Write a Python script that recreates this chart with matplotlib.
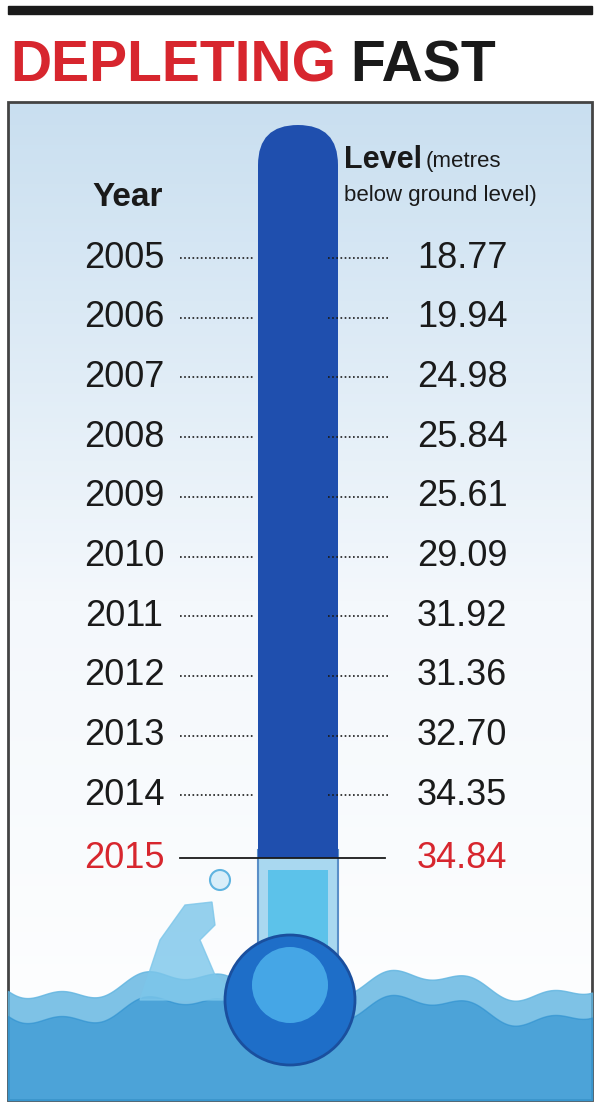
import matplotlib
matplotlib.use("Agg")
import matplotlib.pyplot as plt
import numpy as np
from matplotlib.patches import Rectangle, FancyBboxPatch, Circle, Polygon

years = ["2005", "2006", "2007", "2008", "2009", "2010",
         "2011", "2012", "2013", "2014", "2015"]
levels = ["18.77", "19.94", "24.98", "25.84", "25.61", "29.09",
          "31.92", "31.36", "32.70", "34.35", "34.84"]

FONT = ["Liberation Sans", "DejaVu Sans"]
RED = "#d7262e"
DARK = "#1a1a1a"
TUBE = "#1f4fae"

fig = plt.figure(figsize=(6, 11.11), dpi=100)
ax = fig.add_axes([0, 0, 1, 1])
ax.set_xlim(0, 600)
ax.set_ylim(1111, 0)
ax.axis("off")

# top rule and title
ax.add_patch(Rectangle((8, 6), 584, 8, color=DARK))
ax.text(10, 66, "DEPLETING", color=RED, fontsize=41, fontweight="bold",
        family=FONT, va="center", ha="left")
ax.text(350, 66, "FAST", color=DARK, fontsize=41, fontweight="bold",
        family=FONT, va="center", ha="left")

# panel background gradient
grad = np.linspace(0, 1, 256).reshape(-1, 1)
ax.imshow(grad, extent=(8, 592, 1100, 102), cmap=matplotlib.colors.LinearSegmentedColormap.from_list(
    "bg", ["#c9dff0", "#f4f8fc", "#ffffff"]), aspect="auto", zorder=0)
ax.add_patch(Rectangle((8, 102), 584, 998, fill=False, ec="#444444", lw=2, zorder=1))

# water waves
xs = np.linspace(8, 592, 300)
wave = 985 + 12 * np.sin(xs / 38) + 6 * np.sin(xs / 13)
ax.fill_between(xs, wave, 1100, color="#5fb4e0", alpha=0.8, zorder=2)
ax.fill_between(xs, wave + 25, 1100, color="#2b8fcf", alpha=0.6, zorder=2)
splash = Polygon([(140, 1000), (160, 940), (185, 905), (212, 902), (215, 925),
                  (200, 940), (215, 975), (240, 1000)], closed=True,
                 color="#7cc6ea", alpha=0.8, zorder=2)
ax.add_patch(splash)
ax.add_patch(Circle((220, 880), 10, fc="#d8eef9", ec="#5fb4e0", lw=1.5, zorder=3))

# thermometer
ax.add_patch(Rectangle((258, 850), 80, 110, fc="#a9d8f0", ec="#5a8fc8", lw=1.5, zorder=3))
ax.add_patch(Rectangle((268, 870), 60, 90, fc="#5cc2ea", zorder=3))
ax.add_patch(FancyBboxPatch((258, 125), 80, 730, boxstyle="round,pad=0,rounding_size=40",
                            fc=TUBE, ec="none", zorder=4))
ax.add_patch(Rectangle((258, 800), 80, 58, fc=TUBE, ec="none", zorder=4))
ax.add_patch(Circle((290, 1000), 65, fc="#1e6ec8", ec="#1a4f9e", lw=2, zorder=5))
ax.add_patch(Circle((290, 985), 38, fc="#4fb5ee", ec="none", alpha=0.8, zorder=5))

# headers
ax.text(128, 198, "Year", fontsize=24, fontweight="bold", family=FONT,
        ha="center", va="center", color=DARK)
ax.text(344, 160, "Level", fontsize=22, fontweight="bold", family=FONT,
        ha="left", va="center", color=DARK)
ax.text(426, 162, "(metres", fontsize=16, family=FONT,
        ha="left", va="center", color=DARK)
ax.text(344, 196, "below ground level)", fontsize=16, family=FONT,
        ha="left", va="center", color=DARK)

# rows
for i, (yr, lv) in enumerate(zip(years, levels)):
    y = 258 + i * 59.7 if i < 10 else 858
    last = i == len(years) - 1
    col = RED if last else DARK
    ax.text(124, y, yr, fontsize=26, family=FONT, ha="center", va="center", color=col)
    ax.text(462, y, lv, fontsize=26, family=FONT, ha="center", va="center", color=col)
    if last:
        ax.plot([180, 385], [y, y], color=DARK, lw=1.3, zorder=6)
    else:
        ax.plot([180, 255], [y, y], color=DARK, lw=1.2, ls=(0, (1, 1.5)))
        ax.plot([328, 388], [y, y], color=DARK, lw=1.2, ls=(0, (1, 1.5)), zorder=6)

fig.savefig("out.png", dpi=100)
